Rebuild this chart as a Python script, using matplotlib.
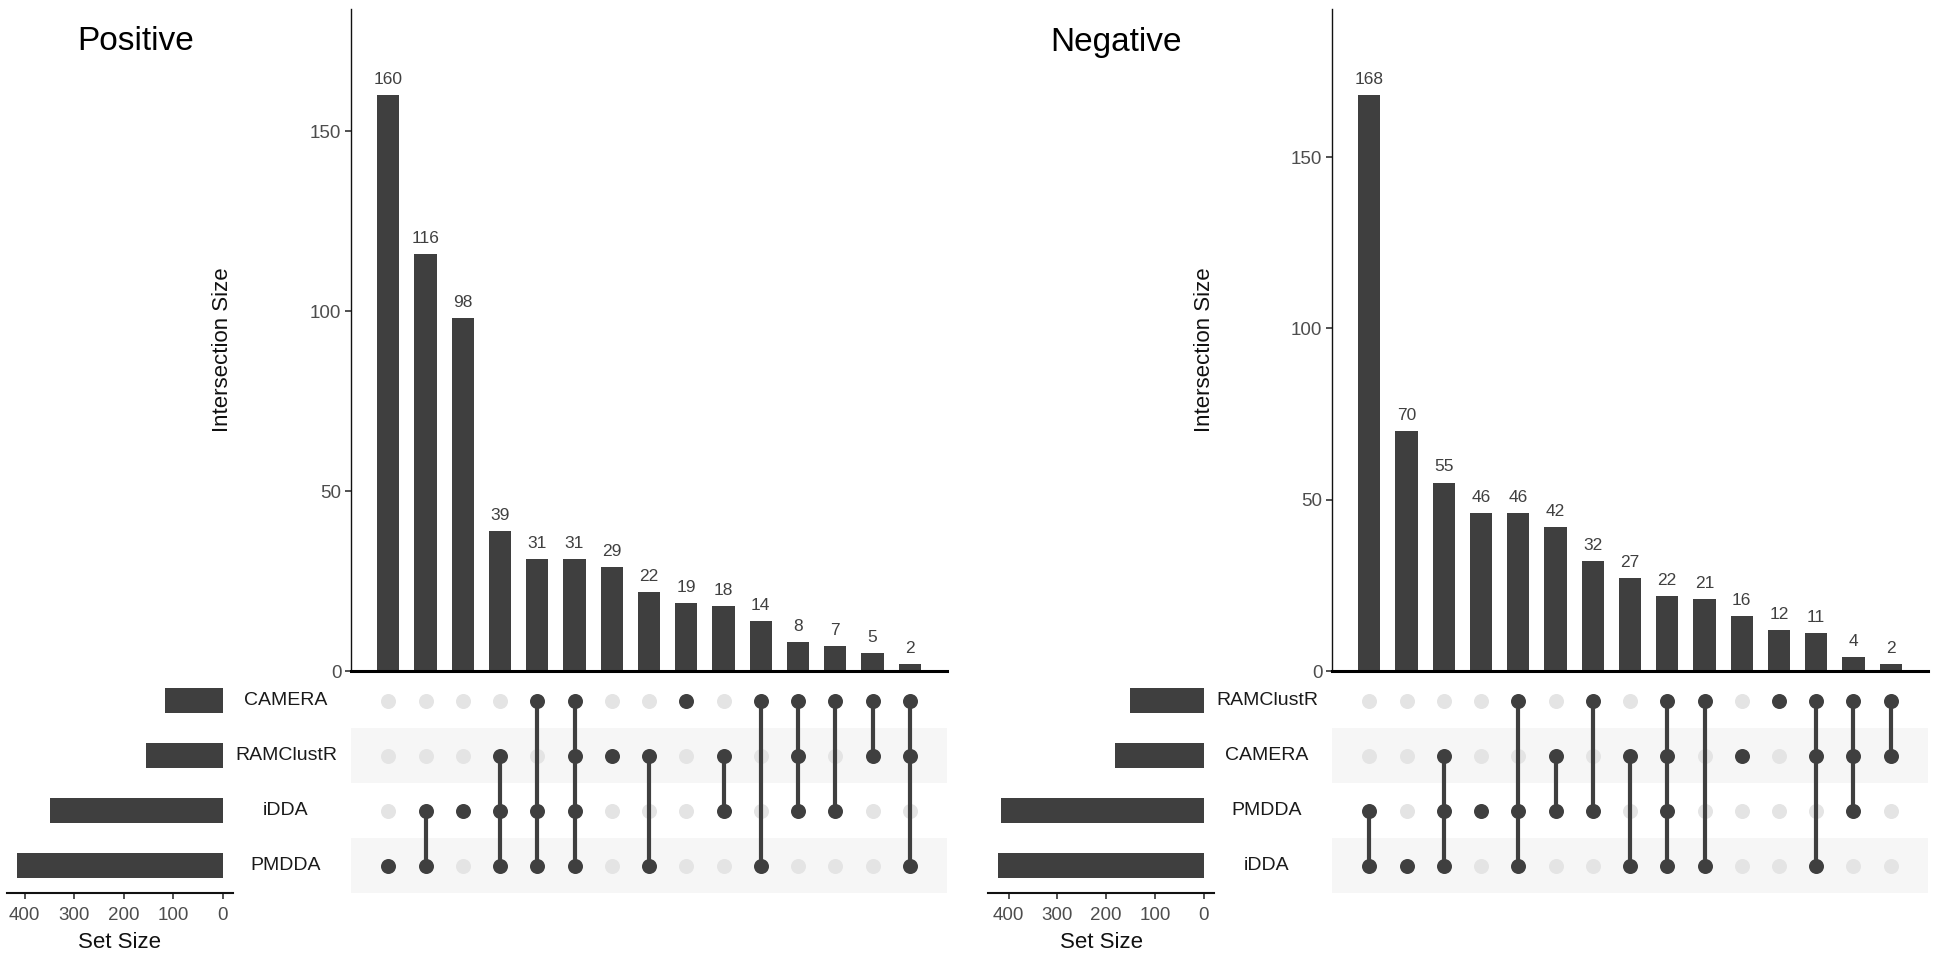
import matplotlib
matplotlib.use('Agg')
import matplotlib.pyplot as plt
import matplotlib.transforms as mtransforms
import numpy as np

plt.rcParams['font.family'] = ['Liberation Sans', 'DejaVu Sans']

# ---------------- data ----------------
pos_sets = ['CAMERA', 'RAMClustR', 'iDDA', 'PMDDA']
pos_set_sizes = [117, 154, 348, 415]
pos_counts = [160, 116, 98, 39, 31, 31, 29, 22, 19, 18, 14, 8, 7, 5, 2]
pos_members = [
    ['PMDDA'],
    ['iDDA', 'PMDDA'],
    ['iDDA'],
    ['RAMClustR', 'iDDA', 'PMDDA'],
    ['CAMERA', 'iDDA', 'PMDDA'],
    ['CAMERA', 'RAMClustR', 'iDDA', 'PMDDA'],
    ['RAMClustR'],
    ['RAMClustR', 'PMDDA'],
    ['CAMERA'],
    ['RAMClustR', 'iDDA'],
    ['CAMERA', 'PMDDA'],
    ['CAMERA', 'RAMClustR', 'iDDA'],
    ['CAMERA', 'iDDA'],
    ['CAMERA', 'RAMClustR'],
    ['CAMERA', 'RAMClustR', 'PMDDA'],
]

neg_sets = ['RAMClustR', 'CAMERA', 'PMDDA', 'iDDA']
neg_set_sizes = [152, 181, 416, 421]
neg_counts = [168, 70, 55, 46, 46, 42, 32, 27, 22, 21, 16, 12, 11, 4, 2]
neg_members = [
    ['PMDDA', 'iDDA'],
    ['iDDA'],
    ['CAMERA', 'PMDDA', 'iDDA'],
    ['PMDDA'],
    ['RAMClustR', 'PMDDA', 'iDDA'],
    ['CAMERA', 'PMDDA'],
    ['RAMClustR', 'PMDDA'],
    ['CAMERA', 'iDDA'],
    ['RAMClustR', 'CAMERA', 'PMDDA', 'iDDA'],
    ['RAMClustR', 'iDDA'],
    ['CAMERA'],
    ['RAMClustR'],
    ['RAMClustR', 'CAMERA', 'iDDA'],
    ['RAMClustR', 'CAMERA', 'PMDDA'],
    ['RAMClustR', 'CAMERA'],
]

bar_ticks = [0, 50, 100, 150]
set_ticks = [0, 100, 200, 300, 400]

# ---------------- style ----------------
W, H = 1936, 956
DARK = '#3f3f3f'
LIGHT = '#e4e4e4'
STRIPE = '#f6f6f6'
TICKCOL = '#4d4d4d'

fig = plt.figure(figsize=(W / 100, H / 100), dpi=100)


def px_axes(x0, y0, x1, y1):
    return fig.add_axes([x0 / W, 1 - y1 / H, (x1 - x0) / W, (y1 - y0) / H])


def draw(dx, title, title_x, sets, set_sizes, counts, members):
    n = len(counts)
    m = len(sets)
    x = np.arange(n)

    # ---- intersection bars ----
    axb = px_axes(351 + dx, 9, 947 + dx, 671)
    axb.bar(x, counts, width=0.6, color=DARK, zorder=2)
    axb.set_xlim(-1, n)
    axb.set_ylim(0, max(counts) * 1.15)
    for xi, c in zip(x, counts):
        axb.annotate(str(c), (xi, c), xytext=(0, 8.0), textcoords='offset points',
                     ha='center', va='baseline', fontsize=12.5, color='#404040')
    for s in ['top', 'right']:
        axb.spines[s].set_visible(False)
    axb.spines['left'].set_linewidth(1.0)
    axb.spines['left'].set_color('#111111')
    axb.spines['bottom'].set_linewidth(2.2)
    axb.spines['bottom'].set_color('#000000')
    axb.set_xticks([])
    axb.set_yticks(bar_ticks)
    axb.tick_params(axis='y', labelsize=13.5, labelcolor=TICKCOL, length=4,
                    width=1.2, color='#333333', pad=3)
    axb.patch.set_alpha(0)

    # ---- matrix ----
    axm = px_axes(351 + dx, 673, 947 + dx, 893)
    axm.set_xlim(-1, n)
    axm.set_ylim(m - 0.5, -0.5)
    for r in range(m):
        if r % 2 == 1:
            axm.axhspan(r - 0.5, r + 0.5, color=STRIPE, zorder=0, lw=0)
    for j, mem in enumerate(members):
        rows = [sets.index(s) for s in mem]
        inactive = [r for r in range(m) if r not in rows]
        axm.plot([j] * len(inactive), inactive, 'o', color=LIGHT, ms=10.8,
                 mew=0, zorder=1)
        if len(rows) > 1:
            axm.plot([j, j], [min(rows), max(rows)], color=DARK, lw=3.0,
                     zorder=2, solid_capstyle='butt')
        axm.plot([j] * len(rows), rows, 'o', color=DARK, ms=10.8, mew=0, zorder=3)
    axm.axis('off')

    # set labels
    trans = mtransforms.blended_transform_factory(fig.transFigure, axm.transData)
    for r, s in enumerate(sets):
        axm.text((286 + dx) / W, r, s, transform=trans, ha='center', va='center',
                 fontsize=14, color='#1a1a1a')

    # ---- set sizes ----
    axs = px_axes(7 + dx, 673, 233 + dx, 893)
    axs.barh(np.arange(m), set_sizes, height=0.45, color=DARK)
    axs.set_ylim(m - 0.5, -0.5)
    mx = max(set_sizes)
    axs.set_xlim(mx * 1.05, -mx * 0.05)
    for s in ['top', 'right', 'left']:
        axs.spines[s].set_visible(False)
    axs.spines['bottom'].set_linewidth(1.5)
    axs.spines['bottom'].set_color('#111111')
    axs.set_yticks([])
    axs.set_xticks(set_ticks)
    axs.tick_params(axis='x', labelsize=13.5, labelcolor=TICKCOL, length=4,
                    width=1.2, color='#333333', pad=6)
    axs.patch.set_alpha(0)

    fig.text((120 + dx) / W, 1 - 943 / H, 'Set Size', ha='center', va='center',
             fontsize=16, color='#111111')
    fig.text((223 + dx) / W, 1 - 350 / H, 'Intersection Size', ha='center',
             va='center', rotation=90, fontsize=16, color='#111111')
    fig.text(title_x / W, 1 - 42 / H, title, ha='left', va='center', fontsize=24,
             color='#000000')


draw(0, 'Positive', 77, pos_sets, pos_set_sizes, pos_counts, pos_members)
draw(981, 'Negative', 1050, neg_sets, neg_set_sizes, neg_counts, neg_members)

fig.savefig('out.png', dpi=100)
